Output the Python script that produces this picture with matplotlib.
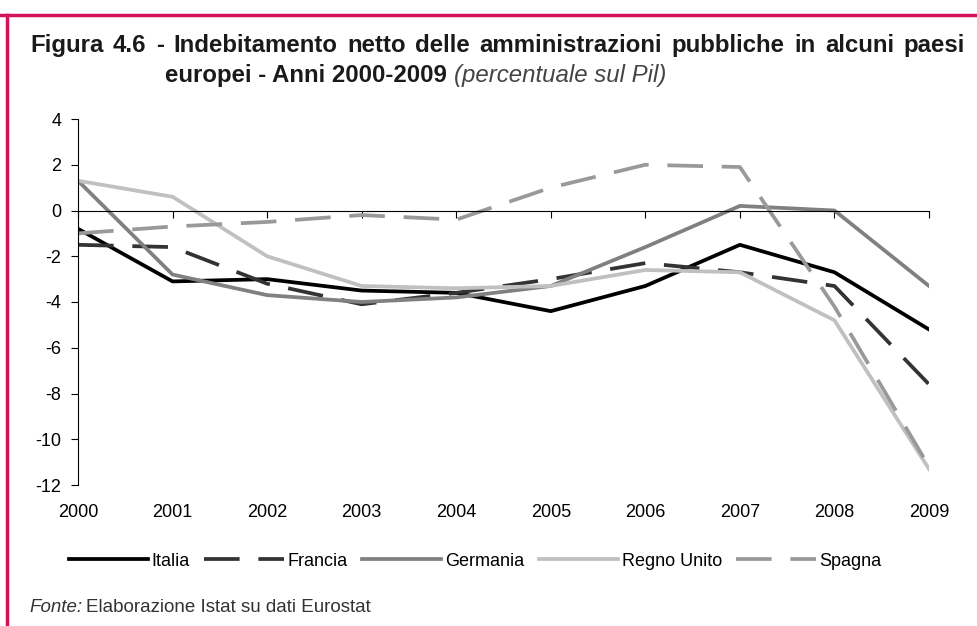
import matplotlib.pyplot as plt
from matplotlib.lines import Line2D

plt.rcParams['font.family'] = ['Liberation Sans', 'DejaVu Sans']
plt.rcParams['axes.unicode_minus'] = False

anni = [2000, 2001, 2002, 2003, 2004, 2005, 2006, 2007, 2008, 2009]
italia = [-0.8, -3.1, -3.0, -3.5, -3.6, -4.4, -3.3, -1.5, -2.7, -5.2]
francia = [-1.5, -1.6, -3.2, -4.1, -3.6, -3.0, -2.3, -2.7, -3.3, -7.6]
germania = [1.3, -2.8, -3.7, -4.0, -3.8, -3.3, -1.6, 0.2, 0.0, -3.3]
regno_unito = [1.3, 0.6, -2.0, -3.3, -3.4, -3.3, -2.6, -2.7, -4.8, -11.3]
spagna = [-1.0, -0.7, -0.5, -0.2, -0.4, 1.0, 2.0, 1.9, -4.2, -11.2]

titolo1 = 'Figura 4.6 - Indebitamento netto delle amministrazioni pubbliche in alcuni paesi'
titolo2 = 'europei - Anni 2000-2009'
sottotitolo = '(percentuale sul Pil)'

W, H = 977, 626
fig = plt.figure(figsize=(W / 100, H / 100), dpi=100)
ax = fig.add_axes([78 / W, 1 - 485 / H, (929 - 78) / W, (485 - 119) / H])

lw = 2.7
dash = (9.5, 5)
ax.plot(anni, italia, color='#000000', lw=lw, label='Italia')
ax.plot(anni, francia, color='#333333', lw=lw, dashes=dash, label='Francia')
ax.plot(anni, germania, color='#808080', lw=lw, label='Germania')
ax.plot(anni, regno_unito, color='#c0c0c0', lw=lw, label='Regno Unito')
ax.plot(anni, spagna, color='#999999', lw=lw, dashes=dash, label='Spagna')

ax.set_xlim(2000, 2009)
ax.set_ylim(-12, 4)
ax.set_yticks(range(-12, 5, 2))
ax.set_xticks(anni)
ax.tick_params(axis='y', direction='out', length=5, width=0.8, labelsize=13, pad=7)
ax.tick_params(axis='x', direction='out', length=5, width=0.8, labelbottom=False)
for s in ['top', 'right']:
    ax.spines[s].set_visible(False)
ax.spines['bottom'].set_position(('data', 0))
ax.spines['bottom'].set_linewidth(0.8)
ax.spines['left'].set_linewidth(0.8)

sec = ax.secondary_xaxis(0)
sec.set_xticks(anni)
sec.tick_params(length=0, labelsize=13, pad=14)
sec.spines['bottom'].set_visible(False)

fig.legend(loc='center', bbox_to_anchor=(475 / W, 1 - 561 / H), ncol=5, frameon=False,
           fontsize=13, handlelength=4.4, handletextpad=0.2, columnspacing=0.8,
           borderpad=0, borderaxespad=0)

r = fig.canvas.get_renderer()

# titolo, prima riga giustificata tra x=30 e x=965
parole = titolo1.split(' ')
testi = [fig.text(0, 1 - 52 / H, p, fontsize=17.3, fontweight='bold', color='#1a1a1a',
                  va='baseline', ha='left') for p in parole]
larg = [t.get_window_extent(r).width for t in testi]
gap = (965 - 30 - sum(larg)) / (len(parole) - 1)
x = 30
for t, w in zip(testi, larg):
    t.set_x(x / W)
    x += w + gap

t2 = fig.text(165 / W, 1 - 82 / H, titolo2 + ' ', fontsize=17.3, fontweight='bold',
              color='#1a1a1a', va='baseline', ha='left')
bb = t2.get_window_extent(r)
fig.text(bb.x1 / W, 1 - 82 / H, sottotitolo, fontsize=17.3, style='italic',
         va='baseline', ha='left', color='#444444')

f1 = fig.text(29 / W, 1 - 612 / H, 'Fonte:', fontsize=13.5, style='italic', va='baseline',
              color='#333333')
bb = f1.get_window_extent(r)
fig.text((bb.x1 + 4) / W, 1 - 612 / H, 'Elaborazione Istat su dati Eurostat',
         fontsize=13.5, va='baseline', color='#333333')

# bordo rosso
fig.add_artist(Line2D([0, 1], [1 - 15 / H, 1 - 15 / H], color='#d4145a', lw=2.5,
                      transform=fig.transFigure))
fig.add_artist(Line2D([6.5 / W, 6.5 / W], [0, 1 - 15 / H], color='#d4145a', lw=2.5,
                      transform=fig.transFigure))

fig.savefig('out.png', dpi=100)
